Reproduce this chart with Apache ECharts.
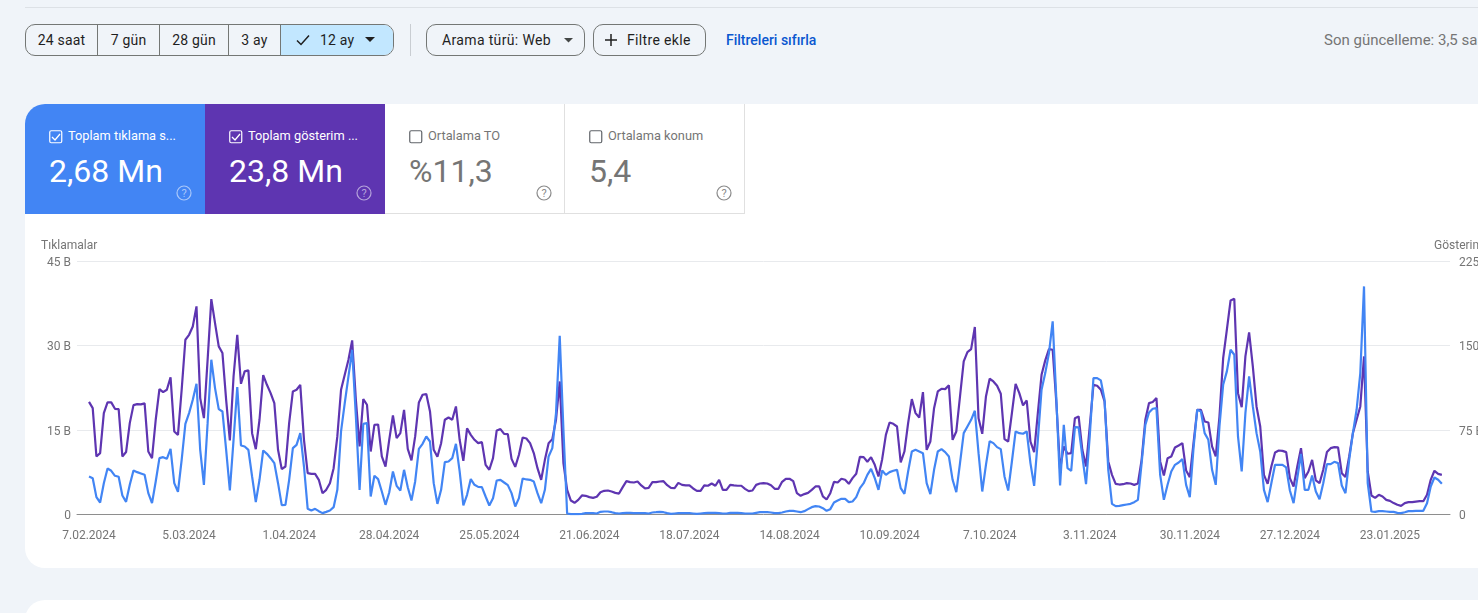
<!DOCTYPE html>
<html lang="tr"><head><meta charset="utf-8">
<script src="https://cdn.jsdelivr.net/npm/echarts@6/dist/echarts.min.js"></script>
<style>
html,body{margin:0;padding:0;width:1478px;height:613px;overflow:hidden;background:#f0f4f9;font-family:Roboto,sans-serif}
.abs{position:absolute;white-space:nowrap}
#topline{left:25px;right:0;top:7px;height:1px;background:#dde1e6}
#seg{left:25px;top:24px;width:369px;height:32px;box-sizing:border-box;border:1px solid #747775;border-radius:10px;display:flex;overflow:hidden;font-size:14px;color:#1f1f1f}
#seg div{box-sizing:border-box;display:flex;align-items:center;justify-content:center;border-right:1px solid #747775;letter-spacing:.2px}
#seg div:last-child{border-right:0;background:#c2e7ff}
.chip{top:24px;height:32px;box-sizing:border-box;border:1px solid #747775;border-radius:10px;font-size:14px;color:#1f1f1f;letter-spacing:.35px}
.chip span{position:absolute;top:7px}
#card{left:25px;top:104px;width:1500px;height:464px;background:#fff;border-radius:20px 0 0 20px}
#card2{left:25px;top:600px;width:1500px;height:60px;background:#fff;border-radius:20px 0 0 0}
.tile{top:104px;width:180px;height:110px;box-sizing:border-box}
.tl{position:absolute;left:43px;top:24px;font-size:12.8px;line-height:16px}
.tv{position:absolute;left:24px;top:48px;font-size:32px;line-height:38px}
.cb{position:absolute;left:24px;top:26px}
.help{position:absolute;left:151px;top:81px}
#chart{position:absolute;left:0;top:0;width:1530px;height:613px}
</style></head><body>
<div class="abs" id="topline"></div>
<div class="abs" id="seg">
<div style="width:72px">24 saat</div><div style="width:62px">7 gün</div><div style="width:69px">28 gün</div><div style="width:52px">3 ay</div>
<div style="flex:1;position:relative"><svg style="position:absolute;left:15px;top:9px" width="14" height="12" viewBox="0 0 14 12"><path d="M1 6.5l4 4L13 1.5" fill="none" stroke="#1f1f1f" stroke-width="1.5"/></svg><span style="position:absolute;left:39px;top:7px">12 ay</span><svg style="position:absolute;left:84px;top:12px" width="10" height="6"><path d="M0 0h10L5 5z" fill="#1f1f1f"/></svg></div>
</div>
<div class="abs" style="left:410px;top:24px;width:1px;height:32px;background:#c9cdd2"></div>
<div class="abs chip" style="left:426px;width:159px"><span style="left:15px">Arama türü: Web</span><svg style="position:absolute;left:137px;top:13px" width="9" height="5"><path d="M0 0h9L4.500 4.500z" fill="#444746"/></svg></div>
<div class="abs chip" style="left:593px;width:113px"><svg style="position:absolute;left:10px;top:8px" width="14" height="14"><path d="M7 1v12M1 7h12" stroke="#1f1f1f" stroke-width="1.500"/></svg><span style="left:33px">Filtre ekle</span></div>
<div class="abs" style="left:726px;top:32px;font-size:14px;font-weight:500;color:#0b57d0">Filtreleri sıfırla</div>
<div class="abs" style="left:1324px;top:31px;font-size:15px;color:#757575">Son güncelleme: 3,5 saat önce</div>
<div class="abs" id="card"></div><div class="abs" id="card2"></div>
<div class="abs tile" style="left:25px;background:#4285f4;border-top-left-radius:20px;color:#fff">
<svg class="cb" width="14" height="14"><rect x=".75" y=".75" width="12" height="12" rx="1.500" fill="none" stroke="#fff" stroke-width="1.200"/><path d="M3 7l3 3 5-6" fill="none" stroke="#fff" stroke-width="1.300"/></svg>
<div class="tl">Toplam tıklama s...</div><div class="tv">2,68 Mn</div>
<svg class="help" width="16" height="16"><circle cx="8" cy="8" r="7" fill="none" stroke="#fff" stroke-opacity=".55" stroke-width="1.200"/><text x="8" y="12" font-size="11" text-anchor="middle" fill="#fff" fill-opacity=".55" font-family="Roboto">?</text></svg></div>
<div class="abs tile" style="left:205px;background:#5e35b1;color:#fff">
<svg class="cb" width="14" height="14"><rect x=".75" y=".75" width="12" height="12" rx="1.500" fill="none" stroke="#fff" stroke-width="1.200"/><path d="M3 7l3 3 5-6" fill="none" stroke="#fff" stroke-width="1.300"/></svg>
<div class="tl">Toplam gösterim ...</div><div class="tv">23,8 Mn</div>
<svg class="help" width="16" height="16"><circle cx="8" cy="8" r="7" fill="none" stroke="#fff" stroke-opacity=".55" stroke-width="1.200"/><text x="8" y="12" font-size="11" text-anchor="middle" fill="#fff" fill-opacity=".55" font-family="Roboto">?</text></svg></div>
<div class="abs tile" style="left:385px;border-right:1px solid #e0e0e0;border-bottom:1px solid #e0e0e0;color:#757575">
<svg class="cb" width="14" height="14"><rect x=".75" y=".75" width="12" height="12" rx="1.500" fill="none" stroke="#5f6368" stroke-width="1.200"/></svg>
<div class="tl">Ortalama TO</div><div class="tv">%11,3</div>
<svg class="help" width="16" height="16"><circle cx="8" cy="8" r="7" fill="none" stroke="#8a8a8a" stroke-width="1.200"/><text x="8" y="12" font-size="11" text-anchor="middle" fill="#8a8a8a" font-family="Roboto">?</text></svg></div>
<div class="abs tile" style="left:565px;border-right:1px solid #e0e0e0;border-bottom:1px solid #e0e0e0;color:#757575">
<svg class="cb" width="14" height="14"><rect x=".75" y=".75" width="12" height="12" rx="1.500" fill="none" stroke="#5f6368" stroke-width="1.200"/></svg>
<div class="tl">Ortalama konum</div><div class="tv">5,4</div>
<svg class="help" width="16" height="16"><circle cx="8" cy="8" r="7" fill="none" stroke="#8a8a8a" stroke-width="1.200"/><text x="8" y="12" font-size="11" text-anchor="middle" fill="#8a8a8a" font-family="Roboto">?</text></svg></div>
<div id="chart"></div>
<script>
// daily clicks, in thousands ("B"), left axis
const clicks = [6.75,6.45,3.08,2.13,5.56,8.17,7.76,6.87,6.69,3.37,2.25,5.27,7.81,7.52,7.28,7.04,3.79,2.01,5.86,10.00,10.18,9.89,11.66,5.56,4.03,9.71,16.10,18.00,20.36,23.21,11.48,5.27,16.22,27.47,22.44,18.71,18.29,11.48,4.26,13.26,22.61,12.25,12.08,11.48,6.75,2.19,6.16,11.37,10.77,10.00,9.12,5.56,1.66,1.72,6.16,11.78,12.37,14.44,8.52,1.01,0.71,1.01,0.59,0.24,0.47,0.71,1.30,4.38,14.74,19.77,24.51,29.24,17.40,4.38,16.10,16.22,3.20,6.87,6.28,4.08,1.72,3.91,7.64,5.09,4.26,7.93,4.85,2.49,5.86,11.66,12.55,13.85,12.96,5.56,1.89,4.38,9.29,9.41,10.00,12.55,7.64,1.60,3.49,6.28,5.27,4.91,4.85,3.20,1.60,2.90,6.04,6.16,5.68,5.21,3.79,1.42,2.90,6.39,6.22,6.16,5.86,3.79,2.01,4.38,10.30,11.78,18.00,31.73,15.04,0.18,0.06,0.06,0.06,0.12,0.24,0.24,0.24,0.18,0.47,0.53,0.53,0.41,0.24,0.18,0.24,0.30,0.30,0.24,0.24,0.24,0.24,0.18,0.36,0.41,0.47,0.41,0.24,0.12,0.18,0.24,0.24,0.24,0.24,0.18,0.12,0.18,0.24,0.30,0.30,0.30,0.24,0.18,0.18,0.30,0.30,0.30,0.24,0.18,0.18,0.18,0.30,0.41,0.41,0.41,0.36,0.24,0.24,0.36,0.53,0.65,0.65,0.53,0.41,0.59,0.95,1.30,1.48,1.42,1.12,0.65,0.95,2.13,2.49,2.78,2.78,2.19,2.31,3.08,4.68,5.56,7.04,8.11,6.45,4.38,7.81,7.04,7.52,7.76,7.93,4.68,3.67,7.64,11.19,11.48,11.19,10.89,5.56,3.61,7.93,11.19,11.60,11.07,10.30,6.16,3.97,9.12,14.44,15.63,16.81,18.41,10.89,4.08,8.82,13.02,12.67,11.96,11.60,6.75,4.26,9.41,14.74,14.44,14.33,14.74,9.12,5.09,13.26,22.14,25.10,28.65,34.28,20.36,5.15,15.92,8.23,7.76,15.51,15.45,10.30,5.39,13.85,24.21,24.21,23.80,20.36,7.93,1.89,1.48,1.54,1.66,1.78,1.89,2.19,2.60,9.12,15.92,18.12,18.77,18.88,7.04,2.60,5.27,7.64,8.82,9.24,9.83,5.27,3.08,11.78,18.59,18.29,14.44,13.26,7.93,5.27,15.63,23.03,25.40,29.24,28.36,13.85,7.64,18.00,24.51,19.18,14.44,11.19,4.38,2.19,5.56,8.82,8.82,8.82,8.35,4.26,2.01,6.45,10.77,4.38,4.38,6.93,4.08,2.72,5.56,8.94,8.94,9.35,9.12,5.15,3.79,9.71,14.44,18.59,25.10,40.49,5.56,0.53,0.47,0.59,0.59,0.53,0.47,0.47,0.30,0.24,0.41,0.59,0.59,0.65,0.65,0.65,2.01,4.97,6.57,6.16,5.45];
// daily impressions, in thousands ("B"), right axis
const impressions = [100.0,94.4,51.5,54.5,90.0,99.5,99.5,93.8,93.5,51.5,55.4,81.1,97.1,98.0,97.7,98.6,55.9,50.0,84.1,111.3,108.6,110.7,121.7,73.7,70.7,110.7,155.1,159.5,166.9,184.7,103.3,85.5,137.3,191.2,169.9,149.2,143.3,101.8,65.7,122.5,159.5,116.0,127.0,127.9,72.2,58.0,84.1,123.7,115.1,107.7,98.9,57.4,40.3,42.6,81.1,109.2,110.7,115.1,66.3,36.7,36.1,36.1,30.8,18.9,21.9,27.8,41.1,69.3,110.7,124.0,137.3,154.5,101.8,60.4,102.4,97.4,55.9,79.6,79.9,51.5,42.6,66.3,87.9,67.8,72.2,92.9,58.3,48.0,69.3,99.5,106.3,106.9,91.5,57.4,51.2,63.3,84.1,86.1,84.1,95.9,66.3,47.7,76.4,70.7,66.3,63.3,64.2,44.1,39.7,50.0,74.6,75.8,71.6,71.3,49.4,42.3,53.0,68.4,67.5,63.3,54.5,41.1,30.8,48.5,63.3,66.9,84.1,118.1,45.6,21.9,12.4,10.4,13.0,16.9,16.6,15.4,14.8,15.7,19.8,21.0,21.3,20.4,19.2,18.6,24.3,29.6,28.7,28.4,29.3,25.8,23.1,23.7,28.7,28.7,29.3,29.6,26.0,23.7,23.4,28.1,26.3,25.8,25.8,23.1,21.0,21.0,25.8,25.5,27.5,25.5,30.8,21.9,21.9,26.3,25.8,25.5,25.5,22.8,20.7,21.3,26.3,27.5,27.8,27.5,26.0,22.8,22.8,29.0,31.7,31.7,29.6,18.9,16.6,18.1,19.2,21.9,24.9,24.9,16.0,13.3,18.9,29.0,28.4,31.7,30.8,27.2,32.3,36.1,51.2,50.9,46.8,50.9,44.1,33.7,49.1,70.7,81.7,80.5,78.1,46.2,55.9,81.1,102.4,90.0,86.1,108.6,57.4,64.8,94.4,109.2,111.6,111.3,114.6,66.3,73.7,104.8,135.9,144.2,146.8,166.4,85.5,71.6,104.8,120.5,118.1,114.3,107.2,66.9,64.8,90.0,116.0,107.7,96.8,101.2,64.8,55.4,90.0,124.0,136.8,146.8,146.2,98.9,39.7,60.4,53.9,54.5,85.5,87.0,57.4,42.6,78.1,115.1,114.3,110.7,100.3,47.1,35.2,27.2,26.6,26.9,27.8,27.5,26.3,27.5,48.5,84.1,98.9,99.8,103.3,47.1,34.6,50.0,51.5,59.5,61.3,63.3,39.1,33.2,63.3,92.9,92.9,82.6,81.7,60.4,51.5,87.0,138.8,164.0,190.0,191.5,107.7,95.3,140.3,161.6,131.4,95.9,78.1,35.2,27.2,42.6,55.1,56.8,56.5,55.4,32.3,24.9,42.6,58.9,32.3,38.2,48.5,30.2,27.8,39.7,55.4,58.9,59.8,59.5,36.7,33.2,51.5,72.2,84.1,95.9,140.3,38.2,16.9,14.8,17.5,16.0,13.0,12.1,10.1,8.6,7.7,10.1,11.0,11.0,11.5,11.8,11.8,17.5,30.8,38.8,36.1,35.2];
// x-axis tick labels, one every 27 days from the first day
const tickLabels = ['7.02.2024','5.03.2024','1.04.2024','28.04.2024','25.05.2024','21.06.2024','18.07.2024','14.08.2024','10.09.2024','7.10.2024','3.11.2024','30.11.2024','27.12.2024','23.01.2025'];
const tickDays = [0,27,54,81,108,135,162,189,216,243,270,297,324,351];

const chart = echarts.init(document.getElementById('chart'), null, {renderer:'canvas'});
const axisText = {color:'#757575', fontSize:12, fontFamily:'Roboto'};
const yLabel = {verticalAlign:'middle', verticalAlignMinLabel:'middle', verticalAlignMaxLabel:'middle',
  rich:{a:{color:'#757575', fontSize:12, fontFamily:'Roboto', padding:[3,0,0,0]}},
  formatter:v=>'{a|'+(v? v+' B':'0')+'}'};
const pair = a => a.map((v,i)=>[i,v]);
chart.setOption({
  animation:false,
  textStyle:{fontFamily:'Roboto'},
  grid:{left:77, top:261, width:1373, height:253.500},
  graphic:[
    {type:'text', left:41, top:240, style:{text:'Tıklamalar', fill:'#757575', font:'12px Roboto'}},
    {type:'text', left:1434, top:240, style:{text:'Gösterimler', fill:'#757575', font:'12px Roboto'}}
  ],
  xAxis:{type:'value', min:-3.24, max:367.2, splitLine:{show:false},
    axisLine:{show:true, lineStyle:{color:'#8e8e8e', width:1}}, axisTick:{show:false},
    axisLabel:Object.assign({}, axisText, {customValues:tickDays, margin:15, showMinLabel:true, showMaxLabel:true,
      formatter:v=>tickLabels[tickDays.indexOf(v)]||''})},
  yAxis:[
    {type:'value', min:0, max:45, interval:15, position:'left',
      axisLine:{show:false}, axisTick:{show:false}, splitLine:{lineStyle:{color:'#e8eaed', width:1}},
      axisLabel:Object.assign({}, axisText, yLabel, {margin:6})},
    {type:'value', min:0, max:225, interval:75, position:'right',
      axisLine:{show:false}, axisTick:{show:false}, splitLine:{show:false},
      axisLabel:Object.assign({}, axisText, yLabel, {margin:9})}
  ],
  series:[
    {name:'Gösterimler', type:'line', yAxisIndex:1, data:pair(impressions), showSymbol:false, lineStyle:{color:'#5e35b1', width:2.2}, itemStyle:{color:'#5e35b1'}},
    {name:'Tıklamalar', type:'line', yAxisIndex:0, data:pair(clicks), showSymbol:false, lineStyle:{color:'#4285f4', width:2.2}, itemStyle:{color:'#4285f4'}}
  ]
});
</script>
</body></html>
